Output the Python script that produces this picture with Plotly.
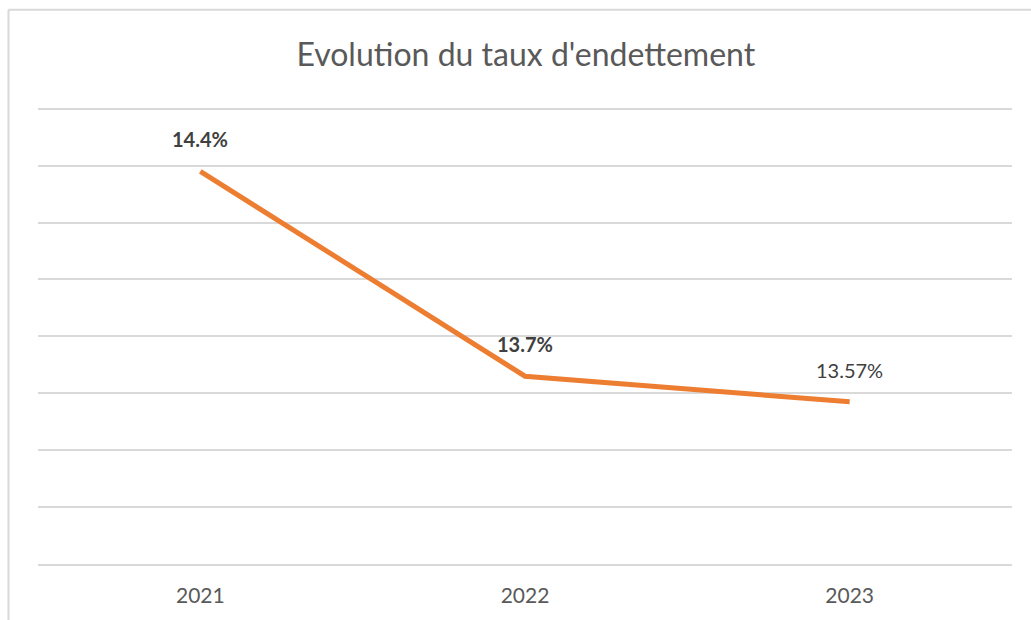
import plotly.graph_objects as go

# Données
annees = ["2021", "2022", "2023"]
taux = [14.38, 13.66, 13.57]
etiquettes = ["<b>14.4%</b>", "<b>13.7%</b>", "13.57%"]

fig = go.Figure()

fig.add_trace(go.Scatter(
    x=annees, y=taux, mode="lines",
    line=dict(color="#ED7D31", width=5),
    hoverinfo="skip", showlegend=False))

# étiquettes de données (axe catégoriel -> index)
for i, (v, t) in enumerate(zip(taux, etiquettes)):
    fig.add_annotation(x=i, y=v, text=t, showarrow=False, yshift=32,
                       font=dict(family="Lato", size=20, color="#404040"))

# cadre du graphique (bords gauche et haut)
fig.add_shape(type="line", xref="paper", yref="paper",
              x0=-0.0303, x1=-0.0303, y0=-0.13, y1=1.2025,
              line=dict(color="#D9D9D9", width=2))
fig.add_shape(type="line", xref="paper", yref="paper",
              x0=-0.0303, x1=1.05, y0=1.2025, y1=1.2025,
              line=dict(color="#D9D9D9", width=2))

fig.update_layout(
    width=1031, height=620,
    margin=dict(l=37.5, r=18.5, t=103.3, b=56),
    paper_bgcolor="white", plot_bgcolor="white",
    title=dict(text="Evolution du taux d'endettement", x=0.51, xanchor="center",
               y=0.912, yanchor="middle",
               font=dict(family="Lato", size=32, color="#595959")),
    xaxis=dict(type="category", range=[-0.5, 2.5], showgrid=False,
               showline=True, linecolor="#D9D9D9", linewidth=2,
               ticks="", tickfont=dict(family="Lato", size=21, color="#595959"),
               ticklabelstandoff=12),
    yaxis=dict(range=[13.0, 14.62], tick0=13.0, dtick=0.2, showticklabels=False,
               gridcolor="#D9D9D9", gridwidth=2, zeroline=False),
)

fig.write_html("out.html", config={"displayModeBar": False},
               post_script="document.body.style.margin='0';")
